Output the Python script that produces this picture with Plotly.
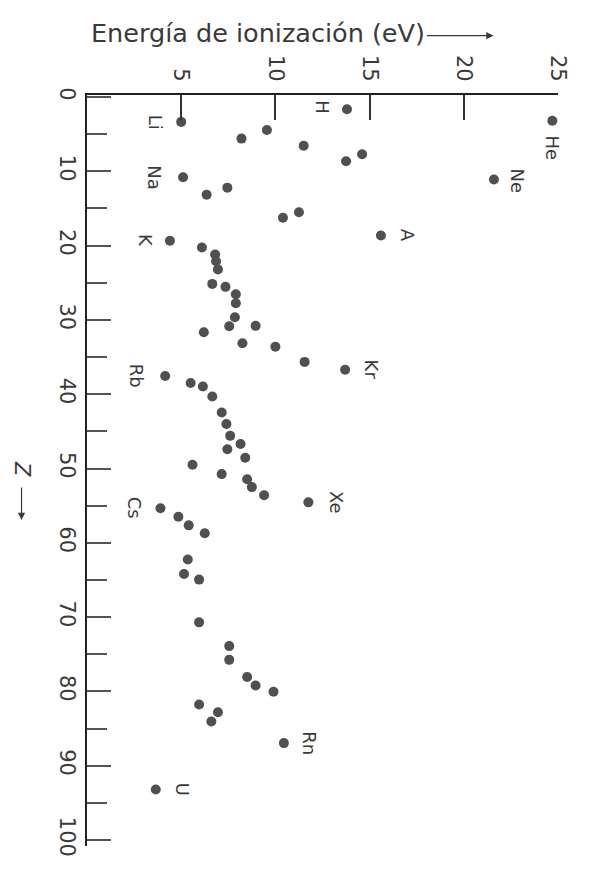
import plotly.graph_objects as go

# Ionization energy (eV) and atomic number Z
energy = [13.8, 24.7, 5.0, 9.55, 8.2, 11.5, 14.6, 13.75, 21.6, 5.1,
          7.45, 6.35, 10.4, 11.25, 15.6, 4.4, 6.1, 6.8, 6.85, 6.95,
          6.65, 7.35, 7.9, 7.9, 7.85, 7.55, 8.95, 6.2, 8.25, 10.0,
          11.55, 13.7, 4.15, 5.5, 6.15, 6.65, 7.15, 7.4, 7.6, 8.15,
          7.45, 8.4, 5.6, 7.15, 8.5, 8.75, 9.4, 11.75, 3.9, 4.85,
          5.4, 6.25, 5.35, 5.15, 5.95, 5.95, 7.55, 7.55, 8.5, 8.95,
          9.9, 5.95, 6.95, 6.6, 10.45, 3.65]
z_number = [1.65, 3.2, 3.35, 4.45, 5.6, 6.55, 7.7, 8.65, 11.1, 10.8,
            12.2, 13.15, 16.25, 15.5, 18.65, 19.35, 20.25, 21.2, 22.1, 23.2,
            25.15, 25.55, 26.55, 27.75, 29.65, 30.85, 30.8, 31.65, 33.15, 33.6,
            35.65, 36.7, 37.55, 38.5, 38.95, 40.3, 42.45, 44.0, 45.6, 46.7,
            47.4, 48.55, 49.5, 50.75, 51.45, 52.5, 53.6, 54.55, 55.35, 56.5,
            57.65, 58.7, 62.25, 64.2, 64.95, 70.7, 73.9, 75.75, 78.05, 79.2,
            80.05, 81.75, 82.8, 84.05, 86.95, 93.2]

# Element labels and the point each one belongs to
label_names = ["H", "He", "Li", "Ne", "Na", "A", "K", "Kr", "Rb", "Xe", "Cs", "Rn", "U"]
label_point = [0, 1, 2, 8, 9, 14, 15, 31, 32, 47, 48, 64, 65]

x_ticks = [5, 10, 15, 20, 25]
y_ticks = [0, 10, 20, 30, 40, 50, 60, 70, 80, 90, 100]

INK = "#3a3a3a"
FONT = "DejaVu Sans"

fig = go.Figure()
fig.add_trace(go.Scatter(
    x=energy, y=z_number, mode="markers",
    marker=dict(size=10, color="#505050", line=dict(width=0)),
    hoverinfo="skip", showlegend=False,
))

# label offsets (pixels) relative to their point
offsets = {"H": (-24, 2), "He": (0, -27), "Li": (-26, 0), "Ne": (24, -2),
           "Na": (-28, 0), "A": (27, 0), "K": (-25, 0), "Kr": (26, 0),
           "Rb": (-28, 0), "Xe": (28, 0), "Cs": (-26, 0), "Rn": (26, 0),
           "U": (27, 0)}
annotations = []
for name, idx in zip(label_names, label_point):
    dx, dy = offsets[name]
    annotations.append(dict(
        x=energy[idx], y=z_number[idx], xref="x", yref="y",
        text=name, showarrow=False, textangle=90,
        xshift=dx, yshift=dy,
        font=dict(family=FONT, size=18, color=INK),
    ))

# Title along the top with its arrow
annotations.append(dict(
    x=0.004, y=1.083, xref="paper", yref="paper", xanchor="left", yanchor="middle",
    text="Energía de ionización (eV)", showarrow=False,
    font=dict(family=FONT, size=25.5, color=INK),
))
annotations.append(dict(
    x=0.863, y=1.079, xref="paper", yref="paper", text="",
    showarrow=True, ax=-68, ay=0, arrowhead=2, arrowsize=1.2, arrowwidth=1.2,
    arrowcolor=INK,
))
# Z label on the left with its arrow
annotations.append(dict(
    x=-0.139, y=0.5027, xref="paper", yref="paper", xanchor="center", yanchor="middle",
    text="<i>Z</i>", showarrow=False, textangle=90,
    font=dict(family=FONT, size=21, color=INK),
))
annotations.append(dict(
    x=-0.139, y=0.434, xref="paper", yref="paper", text="",
    showarrow=True, ax=0, ay=-34, arrowhead=2, arrowsize=1.2, arrowwidth=1.2,
    arrowcolor=INK,
))

fig.update_layout(
    width=574, height=861,
    margin=dict(l=79, r=15, t=87, b=16),
    paper_bgcolor="white", plot_bgcolor="white",
    annotations=annotations,
    xaxis=dict(
        range=[0, 25], side="top", showline=True, linecolor="#222222", linewidth=2,
        ticks="inside", ticklen=25, tickwidth=1.5, tickcolor="#333333",
        tickvals=x_ticks, ticktext=[str(v) for v in x_ticks], tickangle=90,
        tickfont=dict(family=FONT, size=21, color=INK), ticklabelstandoff=4,
        showgrid=False, zeroline=False,
    ),
    yaxis=dict(
        range=[100.8, -0.27], showline=True, linecolor="#222222", linewidth=2,
        ticks="inside", ticklen=24, tickwidth=1.5, tickcolor="#555555",
        tickvals=y_ticks, ticktext=[str(v) for v in y_ticks], tickangle=90,
        tickfont=dict(family=FONT, size=21, color=INK), ticklabelstandoff=0,
        minor=dict(dtick=5, ticks="inside", ticklen=20, tickwidth=1.5, tickcolor="#555555"),
        showgrid=False, zeroline=False,
    ),
)

fig.write_html("out.html")
